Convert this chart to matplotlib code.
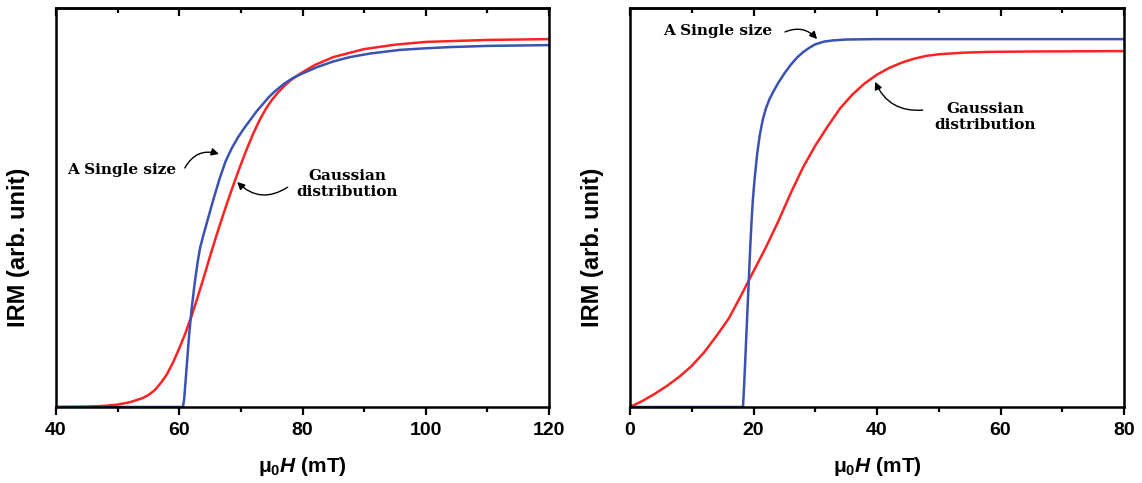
import numpy as np
import matplotlib
matplotlib.use("Agg")
import matplotlib.pyplot as plt
from matplotlib.ticker import MultipleLocator

plt.rcParams["font.family"] = ["Liberation Sans", "DejaVu Sans"]
plt.rcParams["font.weight"] = "bold"
plt.rcParams["mathtext.fontset"] = "custom"
plt.rcParams["mathtext.rm"] = "Liberation Sans:bold"
plt.rcParams["mathtext.it"] = "Liberation Sans:bold:italic"
plt.rcParams["mathtext.bf"] = "Liberation Sans:bold"

# ---- left panel (field in mT, IRM in arb. unit)
left_single_x = [40, 60.6, 60.8, 61.0, 61.3, 61.6, 62.0, 62.5, 63.0, 63.4, 63.9, 64.5, 65.5,
                 66.5, 67.5, 68.5, 69.5, 70.5, 71.5, 72.5, 73.5, 74.5, 75.5, 77.0, 78.5, 80.0,
                 82.4, 85.0, 87.7, 91.0, 95.8, 100.0, 103.9, 110.0, 120.0]
left_single_y = [0, 0, 0.02, 0.06, 0.12, 0.18, 0.245, 0.31, 0.365, 0.40, 0.43, 0.463, 0.518,
                 0.57, 0.615, 0.648, 0.675, 0.698, 0.719, 0.740, 0.758, 0.776, 0.791, 0.81,
                 0.825, 0.836, 0.852, 0.866, 0.877, 0.886, 0.895, 0.899, 0.902, 0.905, 0.907]

left_gauss_x = [40, 45, 48, 50, 52, 54, 55, 56, 57, 58, 59, 60, 61, 62, 63, 64, 65, 66, 67,
                68, 69, 70, 71, 72, 73, 74, 75, 76, 77, 78, 79, 80, 82, 85, 90, 95, 100,
                110, 120]
left_gauss_y = [0, 0.001, 0.003, 0.006, 0.012, 0.022, 0.030, 0.042, 0.060, 0.082, 0.112,
                0.147, 0.185, 0.228, 0.276, 0.326, 0.378, 0.428, 0.476, 0.522, 0.566, 0.608,
                0.648, 0.685, 0.718, 0.746, 0.769, 0.788, 0.804, 0.818, 0.829, 0.839, 0.857,
                0.877, 0.897, 0.908, 0.915, 0.920, 0.922]

# ---- right panel
right_single_x = [0, 18.3, 18.5, 18.7, 18.9, 19.1, 19.3, 19.5, 19.7, 19.9, 20.2, 20.6, 21.0,
                  21.5, 22.0, 22.6, 23.3, 24.0, 25.0, 26.0, 27.0, 28.0, 29.0, 30.0, 31.5,
                  33.0, 35.0, 40.0, 80.0]
right_single_y = [0, 0, 0.06, 0.13, 0.20, 0.27, 0.34, 0.41, 0.47, 0.52, 0.575, 0.635, 0.68,
                  0.72, 0.748, 0.772, 0.793, 0.812, 0.836, 0.857, 0.875, 0.889, 0.900, 0.909,
                  0.916, 0.919, 0.921, 0.922, 0.922]

right_gauss_x = [0, 2, 4, 6, 8, 10, 12, 14, 16, 18, 20, 22, 24, 26, 28, 30, 32, 34, 36, 38,
                 40, 42, 44, 46, 48, 50, 54, 58, 65, 80]
right_gauss_y = [0, 0.015, 0.033, 0.053, 0.076, 0.103, 0.137, 0.178, 0.222, 0.280, 0.340,
                 0.400, 0.465, 0.535, 0.600, 0.655, 0.703, 0.748, 0.783, 0.811, 0.833, 0.850,
                 0.863, 0.873, 0.880, 0.884, 0.888, 0.890, 0.891, 0.892]

BLUE = "#3a52b2"
RED = "#ff2222"

fig = plt.figure(figsize=(11.42, 4.83), dpi=100)
ax1 = fig.add_axes([56 / 1142, 76 / 483, 493 / 1142, 399 / 483])
ax2 = fig.add_axes([630 / 1142, 76 / 483, 494 / 1142, 399 / 483])


def style(ax, xlim, major, minor):
    ax.set_xlim(*xlim)
    ax.set_ylim(0, 1)
    ax.set_yticks([])
    ax.xaxis.set_major_locator(MultipleLocator(major))
    ax.xaxis.set_minor_locator(MultipleLocator(minor))
    ax.tick_params(axis="x", which="major", direction="out", length=6, width=1.6,
                   labelsize=14, pad=5)
    ax.tick_params(axis="x", which="minor", direction="out", length=3.5, width=1.6)
    for s in ax.spines.values():
        s.set_linewidth(1.8)
    top = ax.secondary_xaxis("top")
    top.xaxis.set_major_locator(MultipleLocator(major))
    top.xaxis.set_minor_locator(MultipleLocator(minor))
    top.tick_params(which="major", direction="in", length=6, width=1.6, labeltop=False)
    top.tick_params(which="minor", direction="in", length=3.5, width=1.6)
    top.spines["top"].set_linewidth(1.8)
    ax.set_xlabel(r"μ$_0$$H$ (mT)", fontsize=15, fontweight="bold", labelpad=11)
    ax.set_ylabel("IRM (arb. unit)", fontsize=17, fontweight="bold")
    ax.yaxis.set_label_coords(-0.052, 0.40)


style(ax1, (40, 120), 20, 10)
style(ax2, (0, 80), 20, 10)

ax1.plot(left_gauss_x, left_gauss_y, color=RED, lw=1.8)
ax1.plot(left_single_x, left_single_y, color=BLUE, lw=1.8)
ax2.plot(right_gauss_x, right_gauss_y, color=RED, lw=1.8)
ax2.plot(right_single_x, right_single_y, color=BLUE, lw=1.8)

note_font = dict(family=["DejaVu Serif"], fontweight="bold", fontsize=11)
arrow = dict(arrowstyle="-|>", color="black", lw=1.0, mutation_scale=11, shrinkA=0, shrinkB=0)

ax1.text(41.8, 0.594, "A Single size", ha="left", va="center", **note_font)
ax1.annotate("", xy=(66.45, 0.634), xytext=(60.9, 0.599),
             arrowprops=dict(connectionstyle="arc3,rad=-0.4", **arrow))
ax1.text(87.3, 0.559, "Gaussian\ndistribution", ha="center", va="center",
         linespacing=1.25, **note_font)
ax1.annotate("", xy=(69.4, 0.564), xytext=(77.6, 0.551),
             arrowprops=dict(connectionstyle="arc3,rad=-0.4", **arrow))

ax2.text(5.34, 0.942, "A Single size", ha="left", va="center", **note_font)
ax2.annotate("", xy=(30.3, 0.922), xytext=(25.1, 0.940),
             arrowprops=dict(connectionstyle="arc3,rad=-0.35", **arrow))
ax2.text(57.5, 0.727, "Gaussian\ndistribution", ha="center", va="center",
         linespacing=1.25, **note_font)
ax2.annotate("", xy=(39.7, 0.815), xytext=(47.4, 0.744),
             arrowprops=dict(connectionstyle="arc3,rad=-0.35", **arrow))

fig.savefig("out.png", dpi=100)
